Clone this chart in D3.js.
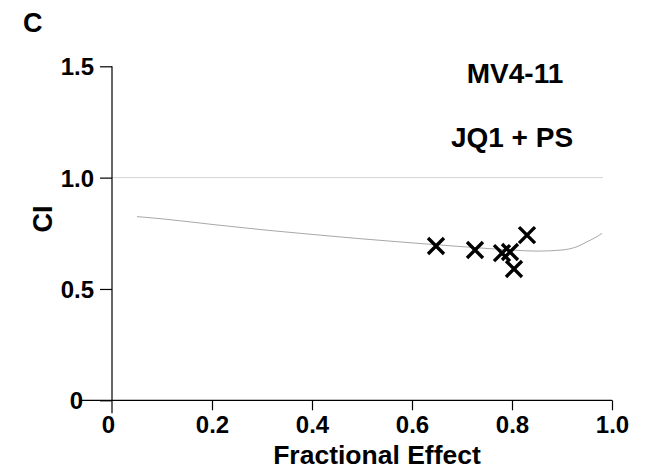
<!DOCTYPE html>
<html>
<head>
<meta charset="utf-8">
<script src="https://cdn.jsdelivr.net/npm/d3@7"></script>
<style>
  body { margin: 0; background: #fff; }
  svg text { font-family: "Liberation Sans", Arial, sans-serif; font-weight: bold; fill: #000; }
</style>
</head>
<body>
<div class="chart"></div>
<script>
// Fractional effect vs combination index (CI), MV4-11, JQ1 + PS
const curve_fa = [0.05, 0.1, 0.2, 0.3, 0.4, 0.5, 0.6, 0.7, 0.8, 0.85, 0.9, 0.93, 0.95, 0.97, 0.98];
const curve_ci = [0.825, 0.815, 0.79, 0.766, 0.745, 0.725, 0.707, 0.69, 0.675, 0.67, 0.675, 0.69, 0.712, 0.735, 0.75];
const point_fa = [0.648, 0.726, 0.78, 0.796, 0.804, 0.83];
const point_ci = [0.693, 0.675, 0.661, 0.666, 0.59, 0.742];
const x_ticks = [0, 0.2, 0.4, 0.6, 0.8, 1.0];
const y_ticks = [0, 0.5, 1.0, 1.5];
const ref_ci = 1.0;

const width = 646;
const height = 473;

const svg = d3.select(".chart").append("svg")
  .attr("width", width)
  .attr("height", height);

const x = d3.scaleLinear().domain([0, 1]).range([112, 612]);
const y = d3.scaleLinear().domain([0, 1.5]).range([400.3, 66.3]);

// reference line at CI = 1
svg.append("line")
  .attr("x1", x(0)).attr("x2", x(0.982))
  .attr("y1", y(ref_ci)).attr("y2", y(ref_ci))
  .attr("stroke", "#d4d4d4").attr("stroke-width", 1);

// fitted CI curve
const line = d3.line().x(d => x(d[0])).y(d => y(d[1])).curve(d3.curveMonotoneX);
svg.append("path")
  .datum(curve_fa.map((d, i) => [d, curve_ci[i]]))
  .attr("d", line)
  .attr("fill", "none")
  .attr("stroke", "#a8a8a8")
  .attr("stroke-width", 1);

// y axis
const yaxis = svg.append("g")
  .attr("transform", `translate(${x(0)},0)`)
  .call(d3.axisLeft(y).tickValues(y_ticks).tickSize(12).tickPadding(6)
    .tickFormat(d => d === 0 ? "0" : d3.format(".1f")(d)));
yaxis.select(".domain").remove();
yaxis.selectAll("line").attr("stroke", "#000").attr("stroke-width", 1.2);
yaxis.selectAll("text").style("font-size", "24px").attr("dy", "0.36em");
yaxis.selectAll(".tick").filter(d => d === 0).select("text").attr("x", -29);
svg.append("line")
  .attr("x1", x(0)).attr("x2", x(0))
  .attr("y1", y(1.5)).attr("y2", y(0) + 13)
  .attr("stroke", "#000").attr("stroke-width", 1.2);

// x axis
const xaxis = svg.append("g")
  .attr("transform", `translate(0,${y(0)})`)
  .call(d3.axisBottom(x).tickValues(x_ticks).tickSize(10).tickPadding(6)
    .tickFormat(d => d === 0 ? "0" : d3.format(".1f")(d)));
xaxis.select(".domain").remove();
xaxis.selectAll("line").attr("stroke", "#000").attr("stroke-width", 1.2);
xaxis.selectAll("text").style("font-size", "24px");
xaxis.selectAll(".tick").filter(d => d === 0).select("line").remove();
xaxis.selectAll(".tick").filter(d => d === 0).select("text").attr("x", -4);
svg.append("line")
  .attr("x1", x(0) - 30).attr("x2", x(1))
  .attr("y1", y(0)).attr("y2", y(0))
  .attr("stroke", "#000").attr("stroke-width", 1.2);

// data points (crosses)
svg.append("g").selectAll("path")
  .data(point_fa.map((d, i) => [d, point_ci[i]]))
  .join("path")
  .attr("transform", d => `translate(${x(d[0])},${y(d[1])})`)
  .attr("d", "M-8,-8L8,8M-8,8L8,-8")
  .attr("stroke", "#000")
  .attr("stroke-width", 3.4)
  .attr("fill", "none");

// labels
svg.append("text").attr("x", 23).attr("y", 32).style("font-size", "27px").text("C");
svg.append("text")
  .attr("transform", `translate(52,219) rotate(-90)`)
  .attr("text-anchor", "middle")
  .style("font-size", "27px")
  .text("CI");
svg.append("text").attr("x", 377).attr("y", 464).attr("text-anchor", "middle")
  .style("font-size", "26.5px").text("Fractional Effect");
svg.append("text").attr("x", 515).attr("y", 83).attr("text-anchor", "middle")
  .style("font-size", "28px").text("MV4-11");
svg.append("text").attr("x", 512).attr("y", 147).attr("text-anchor", "middle")
  .style("font-size", "28px").text("JQ1 + PS");
</script>
</body>
</html>
